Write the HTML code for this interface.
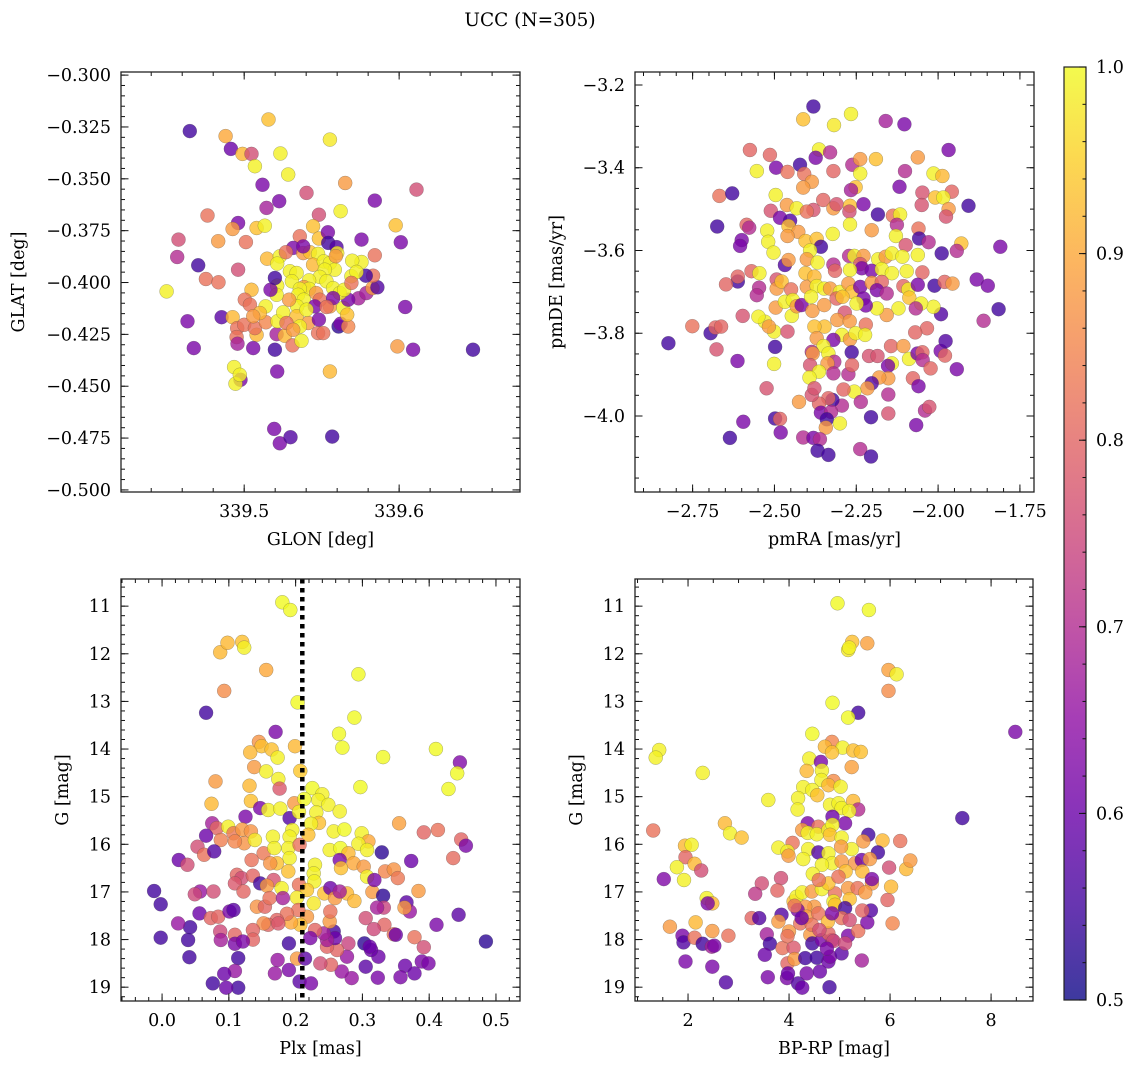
<!DOCTYPE html>
<html><head><meta charset="utf-8"><title>UCC (N=305)</title>
<style>
html,body{margin:0;padding:0;background:#fff;}
svg{display:block;font-family:"DejaVu Serif","Liberation Serif",serif;}
</style></head>
<body>
<svg id="fig" width="1136" height="1067" viewBox="0 0 1136 1067" xmlns="http://www.w3.org/2000/svg">
<text x="530" y="26" font-size="18.5" text-anchor="middle">UCC (N=305)</text>
</svg>
<script>
// ---- Panel TL: GLON vs GLAT ----
const tlGlon=[339.4649,339.4880,339.5157,339.4914,339.4989,339.5047,339.5234,339.5069,339.5553,339.5284,339.5118,339.5652,339.5402,339.6112,339.5226,339.5843,339.5144,339.5482,339.5622,339.4763,339.4961,339.4925,339.5080,339.5133,339.5445,339.5978,339.4576,339.4832,339.5011,339.5359,339.5482,339.5540,339.5757,339.6011,339.4568,339.4703,339.4961,339.5148,339.5316,339.5542,339.5596,339.5843,339.4753,339.4834,339.4499,339.4634,339.4854,339.4925,339.4675,339.4955,339.4951,339.4957,339.5000,339.5047,339.5004,339.5037,339.5080,339.5069,339.5058,339.5138,339.5140,339.5198,339.5209,339.5215,339.5262,339.5312,339.5370,339.5413,339.5477,339.5510,339.5482,339.5609,339.5622,339.5671,339.5553,339.5639,339.5665,339.5738,339.5671,339.5789,339.5828,339.5860,339.5832,339.5785,339.5757,339.5697,339.6039,339.5989,339.6090,339.6477,339.5553,339.4935,339.4976,339.4944,339.4972,339.5213,339.5194,339.5230,339.5299,339.5568,339.5230,339.5213,339.5269,339.5295,339.5338,339.5308,339.5381,339.5424,339.5477,339.5445,339.5514,339.5553,339.5600,339.5585,339.5520,339.5488,339.5531,339.5419,339.5385,339.5419,339.5359,339.5348,339.5385,339.5342,339.5290,339.5252,339.5338,339.5359,339.5213,339.5209,339.5170,339.5198,339.5574,339.5617,339.5645,339.5692,339.5725,339.5692,339.5465,339.5488,339.5456,339.5273,339.5316,339.5101,339.5058,339.5402,339.5574,339.5531,339.5591,339.5381];
const tlGlat=[-0.3270,-0.3294,-0.3214,-0.3356,-0.3380,-0.3380,-0.3378,-0.3439,-0.3311,-0.3479,-0.3529,-0.3520,-0.3568,-0.3552,-0.3608,-0.3605,-0.3640,-0.3673,-0.3656,-0.3677,-0.3713,-0.3742,-0.3737,-0.3726,-0.3729,-0.3724,-0.3793,-0.3801,-0.3805,-0.3777,-0.3788,-0.3758,-0.3793,-0.3806,-0.3877,-0.3917,-0.3938,-0.3885,-0.3833,-0.3809,-0.3829,-0.3869,-0.3983,-0.3999,-0.4043,-0.4187,-0.4167,-0.4167,-0.4316,-0.4220,-0.4263,-0.4295,-0.4204,-0.4035,-0.4083,-0.4107,-0.4252,-0.4220,-0.4316,-0.4115,-0.4192,-0.4324,-0.4249,-0.4187,-0.4257,-0.4303,-0.4281,-0.4195,-0.4244,-0.4244,-0.4179,-0.4212,-0.4199,-0.4212,-0.4115,-0.4123,-0.4155,-0.4076,-0.4083,-0.4051,-0.4027,-0.4023,-0.3967,-0.3967,-0.3901,-0.3895,-0.4118,-0.4308,-0.4324,-0.4324,-0.4429,-0.4408,-0.4469,-0.4488,-0.4445,-0.4429,-0.4706,-0.4775,-0.4746,-0.4743,-0.3874,-0.3909,-0.3854,-0.3946,-0.3954,-0.3994,-0.3858,-0.3854,-0.3862,-0.3914,-0.3898,-0.3906,-0.3858,-0.3938,-0.3938,-0.3973,-0.3994,-0.3990,-0.4022,-0.4031,-0.4031,-0.4059,-0.4083,-0.4115,-0.4083,-0.4144,-0.4163,-0.4212,-0.4015,-0.4059,-0.4035,-0.3978,-0.4027,-0.4051,-0.4035,-0.3970,-0.3949,-0.4002,-0.4051,-0.4083,-0.4115,-0.4195,-0.4228,-0.4147,-0.4163,-0.4131,-0.4075,-0.4118,-0.3873,-0.3826];
const tlProb=[.55,.9,.93,.6,.92,.76,.99,.99,.98,.99,.62,.88,.76,.76,.62,.62,.68,.76,.99,.82,.62,.88,.93,.99,.93,.93,.76,.88,.82,.82,.93,.62,.62,.62,.7,.55,.76,.92,.62,.55,.57,.82,.82,.82,.99,.62,.58,.92,.62,.82,.82,.68,.82,.92,.82,.82,.92,.82,.62,.99,.85,.55,.68,.99,.92,.82,.99,.88,.82,.82,.62,.53,.62,.85,.88,.99,.93,.68,.62,.68,.88,.57,.82,.55,.99,.99,.62,.88,.62,.55,.92,.99,.62,.99,.99,.62,.62,.62,.57,.55,.99,.99,.82,.99,.99,.99,.88,.93,.99,.92,.99,.99,.98,.99,.99,.99,.99,.99,.88,.99,.99,.99,.99,.99,.88,.99,.93,.99,.99,.99,.62,.55,.99,.99,.99,.99,.99,.82,.88,.82,.62,.82,.88,.92,.88,.99,.62,.82,.88,.62];
const tlXTicks=[339.5,339.6];
const tlYTicks=[-0.300,-0.325,-0.350,-0.375,-0.400,-0.425,-0.450,-0.475,-0.500];

// ---- Panel TR: pmRA vs pmDE ----
const trPmra=[-2.381,-2.412,-2.318,-2.266,-2.160,-2.103,-1.968,-2.575,-2.514,-2.364,-2.330,-2.374,-2.422,-2.495,-2.554,-2.460,-2.409,-2.320,-2.262,-2.238,-2.190,-2.238,-2.101,-2.062,-2.014,-1.987,-2.386,-2.412,-2.252,-2.266,-2.118,-1.958,-2.048,-2.009,-1.984,-2.668,-2.629,-2.496,-2.351,-2.462,-2.432,-2.511,-2.381,-2.320,-2.310,-2.269,-2.228,-2.271,-2.050,-1.907,-1.968,-1.976,-2.483,-2.452,-2.401,-2.184,-2.138,-2.116,-2.675,-2.585,-2.577,-2.522,-2.457,-2.427,-2.322,-2.269,-2.203,-2.126,-2.060,-2.600,-2.605,-2.519,-2.460,-2.405,-2.371,-2.358,-2.129,-2.099,-2.058,-2.029,-1.929,-1.943,-1.810,-1.989,-2.503,-2.468,-2.457,-2.391,-2.401,-2.368,-2.320,-2.315,-2.272,-2.256,-2.228,-2.183,-2.160,-2.141,-2.109,-2.062,-2.238,-2.233,-2.269,-2.203,-2.172,-2.141,-2.096,-2.048,-2.570,-2.546,-2.612,-2.612,-2.648,-2.547,-2.554,-2.493,-2.493,-2.478,-2.449,-2.405,-2.401,-2.378,-2.371,-2.348,-2.330,-2.300,-2.310,-2.274,-2.262,-2.238,-2.203,-2.172,-2.187,-2.157,-2.106,-2.091,-2.088,-2.062,-2.011,-1.980,-1.956,-1.882,-1.848,-1.815,-1.861,-1.991,-2.014,-2.052,-2.068,-2.121,-2.157,-2.187,-2.228,-2.221,-2.249,-2.292,-2.285,-2.308,-2.270,-2.221,-2.294,-2.269,-2.252,-2.223,-2.347,-2.378,-2.371,-2.320,-2.350,-2.386,-2.383,-2.335,-2.264,-2.317,-2.338,-2.391,-2.364,-2.393,-2.320,-2.274,-2.263,-2.211,-2.185,-2.144,-2.106,-2.089,-2.141,-2.153,-2.063,-2.048,-2.047,-2.023,-1.992,-1.979,-1.977,-2.034,-2.070,-1.943,-2.077,-2.060,-2.152,-2.180,-2.203,-2.216,-2.256,-2.289,-2.152,-2.236,-2.294,-2.323,-2.335,-2.364,-2.386,-2.378,-2.425,-2.358,-2.327,-2.340,-2.300,-2.343,-2.205,-2.152,-2.040,-2.027,-2.067,-2.498,-2.483,-2.481,-2.412,-2.381,-2.361,-2.368,-2.335,-2.238,-2.205,-2.595,-2.636,-2.613,-2.677,-2.751,-2.695,-2.680,-2.663,-2.824,-2.597,-2.529,-2.501,-2.517,-2.460,-2.447,-2.498,-2.501,-2.524,-2.496,-2.468,-2.444,-2.432,-2.417,-2.384,-2.348,-2.388,-2.549];
const trPmde=[-3.252,-3.283,-3.297,-3.270,-3.287,-3.295,-3.357,-3.357,-3.369,-3.356,-3.363,-3.376,-3.393,-3.400,-3.408,-3.410,-3.415,-3.408,-3.393,-3.379,-3.379,-3.414,-3.408,-3.375,-3.414,-3.420,-3.434,-3.448,-3.447,-3.454,-3.446,-3.458,-3.460,-3.472,-3.472,-3.468,-3.462,-3.466,-3.478,-3.490,-3.498,-3.504,-3.502,-3.498,-3.488,-3.492,-3.488,-3.506,-3.490,-3.492,-3.500,-3.518,-3.521,-3.528,-3.506,-3.513,-3.516,-3.513,-3.542,-3.538,-3.545,-3.552,-3.541,-3.555,-3.560,-3.537,-3.551,-3.538,-3.547,-3.575,-3.589,-3.579,-3.565,-3.577,-3.572,-3.591,-3.565,-3.587,-3.571,-3.580,-3.583,-3.601,-3.591,-3.607,-3.605,-3.635,-3.623,-3.600,-3.621,-3.629,-3.634,-3.649,-3.613,-3.613,-3.613,-3.621,-3.615,-3.607,-3.615,-3.611,-3.633,-3.643,-3.647,-3.649,-3.645,-3.655,-3.650,-3.653,-3.650,-3.655,-3.675,-3.663,-3.682,-3.690,-3.708,-3.670,-3.692,-3.675,-3.694,-3.655,-3.688,-3.663,-3.686,-3.692,-3.692,-3.700,-3.716,-3.680,-3.700,-3.688,-3.678,-3.676,-3.696,-3.704,-3.686,-3.694,-3.714,-3.683,-3.685,-3.676,-3.680,-3.670,-3.685,-3.742,-3.770,-3.754,-3.736,-3.728,-3.740,-3.740,-3.756,-3.740,-3.716,-3.733,-3.728,-3.712,-3.750,-3.768,-3.771,-3.779,-3.804,-3.815,-3.800,-3.804,-3.784,-3.784,-3.812,-3.816,-3.831,-3.845,-3.849,-3.849,-3.846,-3.869,-3.873,-3.877,-3.893,-3.907,-3.897,-3.899,-3.877,-3.855,-3.855,-3.831,-3.831,-3.862,-3.873,-3.879,-3.849,-3.846,-3.865,-3.885,-3.843,-3.854,-3.819,-3.788,-3.798,-3.887,-3.909,-3.928,-3.909,-3.907,-3.921,-3.933,-3.941,-3.936,-3.948,-3.966,-3.975,-3.961,-3.957,-3.970,-3.949,-3.933,-3.966,-3.992,-3.990,-4.008,-4.018,-4.028,-4.003,-3.994,-3.987,-3.978,-4.022,-4.006,-4.007,-4.040,-4.052,-4.053,-4.056,-4.084,-4.094,-4.080,-4.098,-4.014,-4.053,-3.867,-3.839,-3.783,-3.800,-3.786,-3.784,-3.824,-3.758,-3.772,-3.796,-3.784,-3.796,-3.758,-3.833,-3.874,-3.933,-3.738,-3.724,-3.720,-3.735,-3.732,-3.746,-3.732,-3.712,-3.760];
const trProb=[.55,.93,.98,.99,.68,.62,.62,.8,.8,.99,.7,.62,.55,.62,.99,.82,.82,.8,.7,.88,.93,.99,.7,.88,.99,.92,.88,.88,.93,.68,.62,.8,.77,.93,.99,.82,.55,.99,.8,.88,.99,.77,.77,.88,.77,.93,.62,.76,.77,.55,.88,.77,.62,.57,.82,.55,.82,.99,.55,.8,.7,.99,.93,.88,.99,.99,.88,.7,.82,.62,.62,.99,.88,.93,.93,.55,.99,.77,.55,.7,.93,.7,.62,.55,.99,.57,.88,.99,.88,.99,.7,.8,.7,.99,.88,.99,.88,.99,.99,.99,.77,.62,.99,.62,.99,.99,.99,.8,.8,.99,.55,.8,.8,.7,.7,.77,.88,.93,.82,.93,.88,.92,.99,.99,.88,.99,.8,.88,.93,.62,.88,.8,.62,.7,.8,.99,.93,.62,.55,.8,.88,.62,.62,.55,.7,.57,.99,.99,.7,.99,.88,.99,.62,.62,.99,.93,.77,.88,.88,.82,.99,.88,.99,.99,.93,.93,.88,.62,.99,.7,.88,.99,.55,.7,.88,.77,.99,.99,.7,.7,.8,.77,.77,.8,.88,.99,.99,.62,.62,.8,.7,.8,.62,.8,.57,.8,.8,.62,.8,.62,.88,.88,.57,.88,.99,.8,.7,.7,.7,.55,.8,.8,.77,.77,.88,.62,.7,.55,.99,.88,.55,.77,.7,.77,.62,.55,.8,.62,.7,.62,.7,.55,.55,.7,.55,.62,.55,.62,.77,.82,.55,.8,.8,.55,.77,.99,.99,.88,.77,.99,.55,.99,.77,.88,.99,.99,.88,.62,.88,.88,.99,.99];
const trXTicks=[-2.75,-2.50,-2.25,-2.00,-1.75];
const trYTicks=[-3.2,-3.4,-3.6,-3.8,-4.0];

// ---- Panel BL: Plx vs G ----
const blPlx=[.180,.192,.087,.098,.120,.123,.156,.294,.093,.203,.066,.288,.170,.265,.270,.145,.149,.164,.173,.199,.132,.331,.410,.446,.442,.429,.138,.156,.174,.207,.080,.131,.176,.225,.240,.297,.074,.133,.147,.159,.177,.198,.213,.234,.249,.266,.125,.191,.205,.231,.235,.223,.355,.075,.082,.099,.066,.088,.107,.120,.133,.123,.109,.139,.166,.195,.191,.219,.257,.273,.299,.309,.294,.392,.413,.448,.455,.053,.063,.078,.025,.038,.152,.168,.189,.191,.172,.189,.206,.251,.267,.279,.307,.329,.373,.436,.134,.162,.229,.266,.268,.287,.302,.307,.334,.347,.353,.227,.228,.112,.119,.136,.147,.167,.157,.179,.109,.122,-.012,-.002,.057,.049,.077,.205,.217,.202,.227,.243,.252,.259,.277,.288,.266,.315,.331,.318,.384,.366,.371,.363,.444,.485,.411,.332,.322,.305,.333,.317,.347,.350,.378,.392,.389,.399,.364,.378,.357,.323,.305,.324,.313,.303,.311,.284,.269,.277,.279,.262,.247,.253,.237,.257,.259,.247,.242,.251,.252,.229,.222,.217,.207,.193,.204,.187,.172,.159,.152,.142,.154,.161,.181,.174,.136,.136,.190,.202,.214,.173,.169,.190,.206,.223,.109,.109,.121,.114,.109,.114,.096,.093,.076,.041,.039,.042,.024,-.002,.056,.073,.084,.087,.088,.101,.107];
const blG=[10.92,11.08,11.97,11.77,11.75,11.87,12.34,12.43,12.78,13.02,13.24,13.34,13.64,13.68,13.97,13.85,13.94,14.01,14.18,13.94,14.07,14.17,14.00,14.28,14.51,14.84,14.38,14.47,14.63,14.46,14.68,14.77,14.83,14.82,14.95,14.80,15.15,15.09,15.24,15.28,15.25,15.14,15.05,15.07,15.17,15.31,15.42,15.45,15.32,15.33,15.55,15.57,15.56,15.56,15.66,15.63,15.82,15.91,15.77,15.69,15.73,15.98,15.94,15.91,15.84,15.70,15.84,15.80,15.73,15.69,15.77,15.94,15.99,15.75,15.70,15.90,16.03,16.05,16.22,16.15,16.33,16.43,16.19,16.08,16.08,16.29,16.40,16.57,16.01,16.12,16.08,16.19,16.12,16.17,16.35,16.29,16.33,16.40,16.43,16.33,16.50,16.40,16.47,16.68,16.57,16.53,16.71,16.61,16.78,16.64,16.71,16.66,16.82,16.75,16.87,16.92,16.82,16.99,16.98,17.26,16.99,17.05,16.99,16.85,16.96,17.12,17.24,17.03,16.92,17.13,17.03,17.19,16.99,17.00,17.08,16.75,16.98,17.22,17.41,17.33,17.48,18.04,17.69,17.33,17.33,17.55,17.69,17.78,17.89,17.90,17.95,18.16,18.46,18.50,18.55,18.71,18.79,18.80,18.57,18.36,18.22,18.08,18.15,18.81,18.67,18.36,18.08,18.22,18.15,18.53,18.50,17.83,17.97,18.01,17.87,17.62,17.41,17.80,17.97,17.52,17.69,17.64,17.38,17.46,17.59,17.69,17.66,17.31,17.31,17.13,17.13,17.66,17.80,18.00,18.08,18.40,18.40,18.43,18.71,18.64,18.88,18.92,17.90,18.09,18.04,18.39,18.66,19.01,19.01,18.72,18.92,18.37,18.01,17.74,17.66,17.96,17.45,17.55,17.52,17.83,18.01,17.41,17.38];
const blProb=[1.0,1.0,.92,.92,.93,.99,.9,1.0,.86,1.0,.55,1.0,.62,1.0,1.0,.87,.93,.93,.99,.92,.92,1.0,1.0,.63,1.0,1.0,.88,.99,.99,.94,.88,.92,.78,1.0,.99,1.0,.92,.93,.62,.99,.99,.88,1.0,.99,.99,.99,.62,.57,.99,.99,.93,.99,.89,.68,.8,.99,.6,.84,.83,.88,.87,.87,.85,.98,.99,.99,.99,.93,.99,1.0,.99,.9,.99,.8,.82,.8,.62,.76,.82,.57,.6,.76,.83,.99,.99,.99,.93,.93,.82,.99,1.0,.92,.99,.53,.6,.81,.82,.87,.99,.62,.93,.9,.88,.99,.85,.87,.83,.99,.99,.8,.76,.8,.55,.77,.88,.99,.78,.8,.55,.55,.66,.75,.76,.82,.94,.98,.98,.93,.6,.88,.92,.92,.68,.88,.53,.62,.88,.58,.66,.88,.58,.53,.62,.74,.68,.76,.8,.75,.82,.6,.82,.76,.62,.62,.6,.6,.62,.62,.58,.6,.6,.53,.6,.66,.66,.66,.74,.8,.8,.8,.76,.55,.6,.68,.68,.88,.82,.8,.62,.88,.93,.9,.82,.82,.8,.8,.86,.87,.8,.82,.68,.78,.8,.8,.55,.88,.58,.66,.66,.62,.58,.62,.8,.62,.62,.55,.66,.55,.6,.6,.55,.55,.55,.55,.66,.55,.6,.8,.8,.75,.68,.62,.58];
const blXTicks=[0.0,0.1,0.2,0.3,0.4,0.5];
const gTicks=[11,12,13,14,15,16,17,18,19];
const plxLine=[0.21];

// ---- Panel BR: BP-RP vs G ----
const brCol=[4.96,5.58,5.25,5.17,5.19,5.55,5.97,6.13,5.97,4.86,5.37,5.17,8.48,4.46,1.43,1.36,2.29,4.85,4.71,5.06,5.27,5.42,4.85,4.40,4.63,5.24,4.35,4.65,4.64,4.88,4.78,5.02,4.28,4.46,4.56,4.18,3.59,4.17,4.81,4.98,5.04,5.27,5.37,5.19,4.86,5.11,4.37,4.58,4.26,4.37,4.55,4.78,4.86,4.81,5.04,5.57,5.47,5.85,6.20,5.76,5.24,5.03,4.07,3.79,3.97,3.99,4.38,4.58,4.28,4.78,4.85,4.65,5.04,5.31,5.44,5.60,5.45,5.12,5.98,6.32,6.40,4.47,1.94,2.07,1.95,1.78,2.13,2.26,1.52,1.92,1.31,2.73,2.83,3.06,2.37,2.48,2.39,3.46,3.84,3.33,3.77,3.26,3.41,3.85,3.79,1.64,2.15,2.48,2.80,1.89,1.91,2.13,2.29,2.47,2.52,1.95,2.48,2.75,3.56,3.62,3.52,3.58,3.87,4.09,3.97,3.96,3.98,4.11,4.18,4.26,4.35,4.32,4.55,4.78,4.81,4.61,4.80,5.04,5.44,4.00,3.97,4.22,4.42,4.46,4.65,4.85,4.78,4.88,5.17,5.37,5.55,5.62,5.45,6.05,5.95,6.02,5.64,5.64,4.09,4.15,4.26,4.45,4.65,4.91,4.78,4.98,4.59,5.17,5.36,5.51,5.20,4.88,4.91,5.11,4.50,4.32,4.17,4.35,4.58,4.77,5.04,5.20,4.85,4.45,4.25,4.11,7.43,4.60,5.11,4.75];
const brG=[10.94,11.08,11.75,11.92,11.87,11.78,12.34,12.43,12.78,13.03,13.24,13.34,13.64,13.68,14.02,14.18,14.50,13.85,13.95,13.97,14.03,14.06,14.07,14.20,14.27,14.38,14.46,14.45,14.65,14.67,14.76,14.79,14.80,14.86,14.97,15.03,15.07,15.27,15.17,15.14,15.24,15.09,15.27,15.30,15.42,15.56,15.56,15.63,15.70,15.76,15.79,15.70,15.59,15.80,15.86,15.80,15.94,15.92,15.93,16.17,16.10,16.05,15.97,16.07,16.15,16.24,16.10,16.17,16.31,16.19,16.40,16.43,16.36,16.40,16.33,16.31,16.57,16.57,16.49,16.52,16.34,16.62,16.03,16.01,16.27,16.48,16.41,16.55,16.73,16.75,15.71,15.56,15.77,15.86,17.13,17.24,17.24,16.82,16.71,17.04,16.97,17.55,17.55,17.48,17.62,17.73,17.64,17.82,17.92,17.92,18.06,17.96,18.09,18.15,18.13,18.46,18.57,18.90,17.89,18.09,18.32,18.79,18.18,18.17,18.50,18.81,18.71,18.41,18.92,19.01,18.71,18.39,18.38,18.46,18.36,18.67,19.00,18.29,18.44,17.83,17.93,17.66,17.90,18.08,18.01,18.01,17.87,18.03,17.92,17.82,17.64,17.39,17.39,17.66,17.17,16.89,16.82,16.73,17.20,17.10,17.01,16.99,16.94,17.03,16.82,16.68,16.75,16.92,16.92,17.01,17.15,17.20,17.27,17.34,17.31,17.31,17.38,17.52,17.45,17.62,17.55,17.59,17.45,17.69,17.55,17.29,15.45,17.80,18.08,18.19];
const brProb=[1.0,1.0,.93,.98,.99,.89,.89,.99,.86,1.0,.55,1.0,.62,1.0,.99,.99,.99,.85,.92,.99,.93,.93,.93,.99,.62,.89,.92,.99,.99,.86,.92,.99,.99,.99,.93,.99,.99,.99,.99,.99,.99,.92,.7,.99,.6,.62,.62,.82,.88,.99,.99,.99,.99,.93,.99,.55,.88,.92,.82,.55,.99,.88,.82,.99,.99,.88,.99,.57,.99,.99,.99,.99,.88,.87,.6,.88,.92,.93,.76,.92,.88,.99,.92,.99,.8,.99,.92,.76,.63,.99,.82,.92,.99,.93,.99,.92,.62,.76,.76,.72,.8,.8,.57,.57,.88,.88,.92,.88,.82,.62,.57,.82,.55,.68,.62,.62,.62,.57,.68,.55,.6,.62,.82,.78,.8,.62,.6,.88,.57,.6,.62,.55,.55,.6,.62,.6,.55,.58,.68,.88,.82,.82,.88,.55,.62,.68,.8,.75,.62,.82,.62,.57,.8,.85,.8,.92,.88,.62,.93,.99,.99,.88,.99,.82,.93,.82,.82,.88,.82,.88,.93,.99,.93,.55,.88,.88,.62,.88,.82,.92,.82,.76,.62,.82,.6,.82,.55,.76,.75,.62];
const brXTicks=[2,4,6,8];

// ---- Colorbar ----
const cbTicks=[0.5,0.6,0.7,0.8,0.9,1.0];

const NS="http://www.w3.org/2000/svg";
const svg=document.getElementById('fig');
function mk(tag,attrs,parent){const e=document.createElementNS(NS,tag);for(const k in attrs)e.setAttribute(k,attrs[k]);(parent||svg).appendChild(e);return e;}
const plasmaStops=[[13,8,135],[65,4,157],[106,0,168],[143,13,164],[177,42,144],[204,71,120],[225,100,98],[242,132,75],[252,166,54],[252,206,37],[240,249,33]];
function plasma(t){t=Math.max(0,Math.min(1,t));const f=t*10,i=Math.min(9,Math.floor(f)),r=f-i,a=plasmaStops[i],b=plasmaStops[i+1];
 return 'rgb('+a.map((v,k)=>Math.round(v+(b[k]-v)*r)).join(',')+')';}
function cnorm(p){return (p-0.5)/0.5;}
function fmt(v,d){const s=Math.abs(v).toFixed(d);return (v<-1e-9?'\u2212':'')+s;}
const FS=17.5;

function panel(o){
 const g=mk('g',{});
 
 
 const sx=v=>o.L+(v-o.x0)/(o.x1-o.x0)*(o.R-o.L);
 const sy=v=>o.T+(v-o.y0)/(o.y1-o.y0)*(o.B-o.T);
 const clipId='clip-'+o.name;
 const cp=mk('clipPath',{id:clipId},g);mk('rect',{x:o.L,y:o.T,width:o.R-o.L,height:o.B-o.T},cp);
 const pts=mk('g',{'clip-path':'url(#'+clipId+')'},g);
 
 
 for(let i=0;i<o.xs.length;i++){
  const c=mk('circle',{cx:sx(o.xs[i]).toFixed(1),cy:sy(o.ys[i]).toFixed(1),r:7,fill:plasma(cnorm(o.cs[i])),'fill-opacity':0.8,stroke:'#444','stroke-opacity':0.45,'stroke-width':0.5},pts);
  
  
 }
 if(o.vline){o.vline.forEach(v=>{const l=mk('line',{x1:sx(v),x2:sx(v),y1:o.T,y2:o.B,stroke:'#000','stroke-width':4.5,'stroke-dasharray':'4.5,4.5'},g);
  
  });}
 const ax=mk('g',{stroke:'#111','stroke-width':1},g);
 const eps=1e-9;
 for(let v=Math.ceil(o.x0/o.xm-eps)*o.xm;v<=o.x1+eps;v+=o.xm){const X=sx(v);mk('line',{x1:X,x2:X,y1:o.B,y2:o.B-4},ax);mk('line',{x1:X,x2:X,y1:o.T,y2:o.T+4},ax);}
 const ya=Math.min(o.y0,o.y1),yb=Math.max(o.y0,o.y1);
 for(let v=Math.ceil(ya/o.ym-eps)*o.ym;v<=yb+eps;v+=o.ym){const Y=sy(v);mk('line',{y1:Y,y2:Y,x1:o.L,x2:o.L+4},ax);mk('line',{y1:Y,y2:Y,x1:o.R,x2:o.R-4},ax);}
 o.xt.forEach(v=>{const X=sx(v);mk('line',{x1:X,x2:X,y1:o.B,y2:o.B-7.5},ax);mk('line',{x1:X,x2:X,y1:o.T,y2:o.T+7.5},ax);
  const t=mk('text',{x:X,y:o.B+25,'font-size':FS,'text-anchor':'middle'},g);t.textContent=fmt(v,o.xd);
  
  });
 o.yt.forEach(v=>{const Y=sy(v);mk('line',{y1:Y,y2:Y,x1:o.L,x2:o.L+7.5},ax);mk('line',{y1:Y,y2:Y,x1:o.R,x2:o.R-7.5},ax);
  const t=mk('text',{x:o.L-10,y:Y+6,'font-size':FS,'text-anchor':'end'},g);t.textContent=fmt(v,o.yd);
  
  });
 const fr=mk('rect',{x:o.L,y:o.T,width:o.R-o.L,height:o.B-o.T,fill:'none',stroke:'#222','stroke-width':1.3},g);
 
 
 const xl=mk('text',{x:(o.L+o.R)/2,y:o.B+53,'font-size':FS,'text-anchor':'middle'},g);xl.textContent=o.xlab;
 
 
 const yx=o.ylx,yy=(o.T+o.B)/2;
 const yl=mk('text',{x:yx,y:yy,'font-size':FS,'text-anchor':'middle',transform:'rotate(-90 '+yx+' '+yy+')'},g);yl.textContent=o.ylab;
 
 
}

panel({name:'glon-glat-panel',L:121,R:520,T:72,B:492,x0:339.4205,x1:339.678,y0:-0.2985,y1:-0.501,
 xs:tlGlon,ys:tlGlat,cs:tlProb,xt:tlXTicks,yt:tlYTicks,xm:0.02,ym:0.005,xd:1,yd:3,xlab:'GLON [deg]',ylab:'GLAT [deg]',ylx:24});
panel({name:'pm-panel',L:635,R:1034,T:72,B:492,x0:-2.926,x1:-1.707,y0:-3.1686,y1:-4.1837,
 xs:trPmra,ys:trPmde,cs:trProb,xt:trXTicks,yt:trYTicks,xm:0.05,ym:0.05,xd:2,yd:1,xlab:'pmRA [mas/yr]',ylab:'pmDE [mas/yr]',ylx:562});
panel({name:'plx-g-panel',L:121,R:520,T:579,B:1001,x0:-0.0615,x1:0.536,y0:10.43,y1:19.29,
 xs:blPlx,ys:blG,cs:blProb,xt:blXTicks,yt:gTicks,xm:0.02,ym:0.2,xd:1,yd:0,xlab:'Plx [mas]',ylab:'G [mag]',ylx:68,vline:plxLine});
panel({name:'cmd-panel',L:635,R:1033,T:579,B:1001,x0:0.95,x1:8.83,y0:10.43,y1:19.29,
 xs:brCol,ys:brG,cs:brProb,xt:brXTicks,yt:gTicks,xm:0.5,ym:0.2,xd:0,yd:0,xlab:'BP-RP [mag]',ylab:'G [mag]',ylx:582});

// colorbar
(function(){
 const L=1064,R=1086,T=67,B=1000;
 const g=mk('g',{});
 
 
 const defs=mk('defs',{},g);
 const lg=mk('linearGradient',{id:'cbgrad',x1:0,y1:1,x2:0,y2:0},defs);
 for(let i=0;i<=20;i++){mk('stop',{offset:(i/20),'stop-color':plasma(i/20),'stop-opacity':0.8},lg);}
 mk('rect',{x:L,y:T,width:R-L,height:B-T,fill:'url(#cbgrad)',stroke:'#222','stroke-width':1.2},g);
 const sy=v=>B-(v-0.5)/0.5*(B-T);
 for(let v=0.5;v<=1.0001;v+=0.02){const Y=sy(v);mk('line',{x1:R,x2:R-3.5,y1:Y,y2:Y,stroke:'#111'},g);}
 cbTicks.forEach(v=>{const Y=sy(v);mk('line',{x1:R,x2:R-7,y1:Y,y2:Y,stroke:'#111'},g);
  const t=mk('text',{x:R+10,y:Y+6,'font-size':FS},g);t.textContent=v.toFixed(1);
  
  });
})();
</script>
</body></html>
